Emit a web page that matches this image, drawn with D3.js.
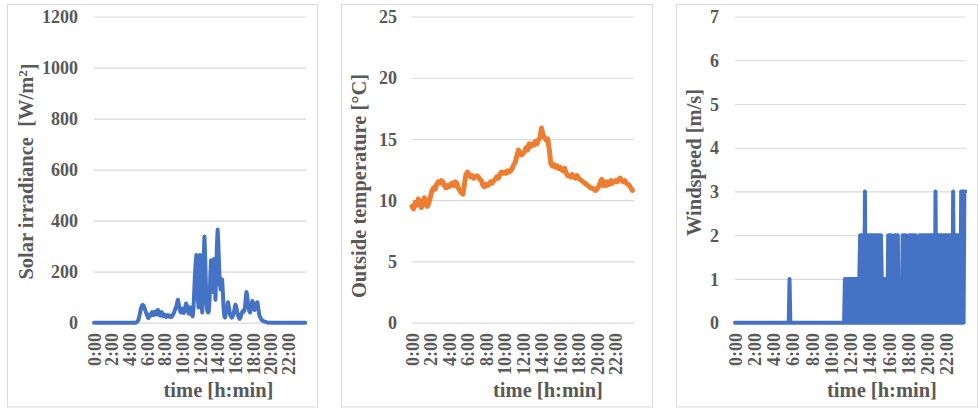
<!DOCTYPE html>
<html><head><meta charset="utf-8">
<script src="https://cdn.jsdelivr.net/npm/d3@7"></script>
<style>
body{margin:0;background:#fff;}
svg text{font-family:"Liberation Serif","Times New Roman",serif;font-weight:bold;fill:#595959;}
</style></head><body>
<svg id="chart" width="978" height="412"></svg>
<script>
// ---- tick values / labels ----
const timeTicks = [0, 2, 4, 6, 8, 10, 12, 14, 16, 18, 20, 22];
const timeTickLabels = ["0:00","2:00","4:00","6:00","8:00","10:00","12:00","14:00","16:00","18:00","20:00","22:00"];
const solarTicks = [0, 200, 400, 600, 800, 1000, 1200];
const tempTicks = [0, 5, 10, 15, 20, 25];
const windTicks = [0, 1, 2, 3, 4, 5, 6, 7];

// ---- series: solar irradiance, W/m², every 5 min (12 values per hour) ----
const solarIrradiance = [
  0,0,0,0,0,0,0,0,0,0,0,0,
  0,0,0,0,0,0,0,0,0,0,0,0,
  0,0,0,0,0,0,0,0,0,0,0,0,
  0,0,0,0,0,0,0,0,0,0,0,0,
  0,0,0,0,0,0,0,0,0,0,2,4,
  8,18,30,45,58,66,70,68,62,55,45,38,
  30,22,18,25,32,28,35,42,38,30,36,44,
  40,32,45,50,38,30,28,35,42,30,26,28,
  32,25,22,28,30,26,24,28,25,22,26,30,
  35,42,50,58,65,80,90,75,60,45,40,50,
  55,45,38,50,62,75,70,55,40,35,45,60,
  40,30,25,50,110,180,230,265,180,100,60,140,
  265,200,90,40,120,250,338,260,150,70,45,40,
  45,90,180,245,200,120,180,250,160,90,200,300,
  365,300,220,150,130,160,170,120,60,25,20,35,
  45,60,80,65,45,30,25,20,22,30,40,55,
  70,65,50,35,25,18,15,20,30,40,45,42,
  45,60,90,120,110,80,60,45,40,50,70,85,
  80,65,50,60,70,75,80,60,40,25,20,15,
  10,8,6,5,4,3,2,1,0,0,0,0,
  0,0,0,0,0,0,0,0,0,0,0,0,
  0,0,0,0,0,0,0,0,0,0,0,0,
  0,0,0,0,0,0,0,0,0,0,0,0,
  0,0,0,0,0,0,0,0,0,0,0,0
];

// ---- series: outside temperature, °C, every 10 min (6 values per hour) ----
const outsideTemperature = [
  9.5,9.3,9.8,9.6,10.1,9.9,
  9.4,9.6,10.2,10.0,9.5,9.8,
  10.3,10.8,11.0,10.9,11.3,11.5,
  11.4,11.6,11.5,11.2,11.0,11.2,
  11.1,11.3,11.4,11.2,11.5,11.4,
  11.0,10.8,10.6,10.5,11.3,12.1,
  12.3,12.1,11.9,12.0,11.8,11.9,
  12.0,11.9,11.7,11.6,11.2,11.1,
  11.3,11.2,11.3,11.5,11.4,11.6,
  11.7,11.9,11.8,12.1,12.3,12.2,
  12.3,12.2,12.4,12.3,12.4,12.6,
  12.9,13.1,13.6,14.1,13.9,13.7,
  13.8,14.0,14.3,14.1,14.6,14.4,
  14.6,14.5,14.8,14.6,14.9,15.1,
  15.9,15.3,15.1,14.9,15.0,14.2,
  13.0,12.8,12.9,12.7,12.8,12.6,
  12.7,12.5,12.4,12.6,12.2,12.0,
  12.0,11.9,12.1,11.9,11.8,12.0,
  11.8,11.7,11.6,11.5,11.4,11.3,
  11.2,11.1,11.0,11.0,10.9,10.8,
  10.9,11.1,11.4,11.7,11.2,11.5,
  11.2,11.5,11.3,11.6,11.4,11.5,
  11.6,11.5,11.7,11.8,11.6,11.5,
  11.6,11.4,11.3,11.2,11.0,10.8
];

// ---- series: wind speed, m/s, every 5 min (12 values per hour) ----
const windSpeed = [
  0,0,0,0,0,0,0,0,0,0,0,0,
  0,0,0,0,0,0,0,0,0,0,0,0,
  0,0,0,0,0,0,0,0,0,0,0,0,
  0,0,0,0,0,0,0,0,0,0,0,0,
  0,0,0,0,0,0,0,0,0,0,0,0,
  0,0,0,0,0,0,0,0,1,0,0,0,
  0,0,0,0,0,0,0,0,0,0,0,0,
  0,0,0,0,0,0,0,0,0,0,0,0,
  0,0,0,0,0,0,0,0,0,0,0,0,
  0,0,0,0,0,0,0,0,0,0,0,0,
  0,0,0,0,0,0,0,0,0,0,0,0,
  0,0,0,0,0,1,0,1,0,1,0,1,
  0,1,0,1,0,1,0,1,0,1,0,1,
  2,0,2,0,2,0,3,0,2,0,2,0,
  2,0,2,0,2,0,2,0,2,0,2,0,
  2,0,2,1,0,1,0,1,0,1,0,2,
  0,2,0,2,0,1,0,2,0,2,0,2,
  0,1,0,1,0,2,0,2,0,2,0,1,
  0,2,0,2,0,2,0,2,0,2,1,0,
  1,0,2,0,2,0,2,0,2,0,2,0,
  2,0,2,0,2,0,2,0,2,0,3,0,
  2,0,2,0,2,0,2,0,2,0,2,0,
  2,0,2,0,2,0,2,0,3,0,2,0,
  2,0,2,0,2,0,3,0,3,0,3,3
];

// ---- layout ----
const svg = d3.select("#chart");
const plotTop = 16.5, plotBottom = 322.7;

const panels = [
  { frame:[7.5, 317.5], px:[94, 306], values: solarIrradiance, stepMin: 5, domain:[0,1200], ticks: solarTicks,
    color:"#4472C4", labelRight:78, yTitleX:33, yTitleY:171.5, xTitleX:218.5, kind:"solar", sw:4 },
  { frame:[341.5, 652.5], px:[412, 634], values: outsideTemperature, stepMin: 10, domain:[0,25], ticks: tempTicks,
    color:"#ED7D31", labelRight:397, yTitleX:366, yTitleY:186, xTitleX:548, kind:"temp", sw:5 },
  { frame:[676.5, 977.5], px:[735, 966], values: windSpeed, stepMin: 5, domain:[0,7], ticks: windTicks,
    color:"#4472C4", labelRight:719, yTitleX:701, yTitleY:162.5, xTitleX:882, kind:"wind", sw:4 }
];

panels.forEach(p => {
  const g = svg.append("g");
  // frame
  g.append("rect").attr("x", p.frame[0]).attr("y", 4.5)
    .attr("width", p.frame[1]-p.frame[0]).attr("height", 402.5)
    .attr("fill", "#fff").attr("stroke", "#d9d9d9").attr("stroke-width", 1);

  const x = d3.scaleLinear().domain([0, 24]).range(p.px);
  const y = d3.scaleLinear().domain(p.domain).range([plotBottom, plotTop]);

  // y axis with gridlines
  const ya = g.append("g").attr("transform", `translate(${p.px[0]},0)`)
    .call(d3.axisLeft(y).tickValues(p.ticks).tickFormat(d3.format("d"))
      .tickSize(-(p.px[1]-p.px[0])).tickPadding(p.px[0]-p.labelRight));
  ya.select(".domain").remove();
  ya.selectAll(".tick line").attr("stroke", "#d9d9d9").attr("stroke-width", 1.2);
  ya.selectAll(".tick text").style("font-size", "18px").attr("fill", "#595959").attr("dy", "0.34em");

  // x axis (rotated time labels)
  const xa = g.append("g").attr("transform", `translate(0,333)`)
    .call(d3.axisBottom(x).tickValues(timeTicks).tickFormat((d,i) => timeTickLabels[i]).tickSize(0));
  xa.select(".domain").remove();
  xa.selectAll(".tick text")
    .style("font-size", "18px").attr("fill", "#595959")
    .attr("x", 0).attr("y", 0).attr("dy", "0.34em")
    .attr("transform", "rotate(-90)").style("text-anchor", "end");

  // series line
  const pts = p.values.map((v, i) => ({ t: i * p.stepMin / 60, v }));
  const line = d3.line().x(d => x(d.t)).y(d => y(d.v));
  g.append("path").datum(pts).attr("d", line)
    .attr("fill", "none").attr("stroke", p.color).attr("stroke-width", p.sw)
    .attr("stroke-linejoin", "round").attr("stroke-linecap", "round");

  // y title
  const yt = g.append("text")
    .attr("transform", `translate(${p.yTitleX},${p.yTitleY}) rotate(-90)`)
    .attr("text-anchor", "middle").style("font-size", "20.5px").style("white-space", "pre");
  if (p.kind === "solar") {
    yt.append("tspan").text("Solar irradiance  [W/m");
    yt.append("tspan").text("2").attr("dy", "-0.45em").style("font-size", "13px");
    yt.append("tspan").text("]").attr("dy", "0.45em");
  } else if (p.kind === "temp") {
    yt.text("Outside temperature [°C]");
  } else {
    yt.text("Windspeed [m/s]");
  }

  // x title
  g.append("text").attr("x", p.xTitleX).attr("y", 397)
    .attr("text-anchor", "middle").style("font-size", "20.5px").text("time [h:min]");
});
</script>
</body></html>
